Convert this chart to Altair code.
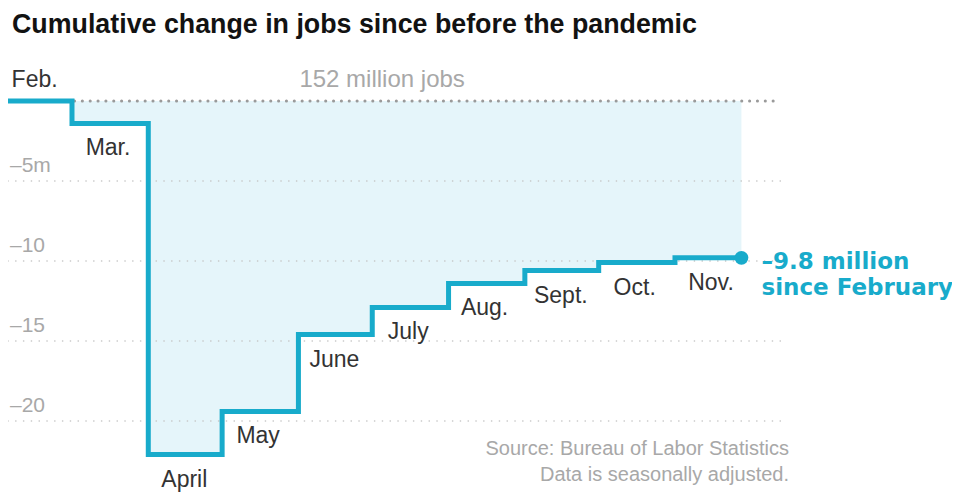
import altair as alt
import pandas as pd

TITLE = "Cumulative change in jobs since before the pandemic"
MONTHS = ["Feb.", "Mar.", "April", "May", "June", "July", "Aug.", "Sept.", "Oct.", "Nov."]
DATES = ["2020-02-01", "2020-03-01", "2020-04-01", "2020-05-01", "2020-06-01",
         "2020-07-01", "2020-08-01", "2020-09-01", "2020-10-01", "2020-11-01"]
CHANGE = [0, -1.4, -22.1, -19.4, -14.6, -12.9, -11.4, -10.6, -10.1, -9.8]
END_DATE = "2020-11-28"
GRID_VALUES = [-5, -10, -15, -20]
GRID_LABELS = ["–5m", "–10", "–15", "–20"]
BASE_LABEL = "152 million jobs"
ANNOTATION = ["–9.8 million", "since February"]
SOURCE = ["Source: Bureau of Labor Statistics", "Data is seasonally adjusted."]

BLUE = "#18abcb"
SHADE = "#e5f5fa"
FONT = "Liberation Sans"

W, H = 944, 486
PX_PER_DAY = 2.4612
DAY_MS = 86400000


def ms(s):
    return int(pd.Timestamp(s, tz="UTC").value // 10**6)


x_start = ms("2020-02-04")
x_end = int(x_start + W / PX_PER_DAY * DAY_MS)

steps = pd.DataFrame({"t": [ms(d) for d in DATES + [END_DATE]], "change": CHANGE + [CHANGE[-1]]})
labels = pd.DataFrame({"t": [ms(d) for d in DATES], "change": CHANGE, "month": MONTHS})
grid = pd.DataFrame({"v": GRID_VALUES, "label": GRID_LABELS,
                     "t0": x_start, "t1": ms("2020-12-15")})
zero_df = pd.DataFrame({"v": [0], "t0": [ms("2020-03-02")], "t1": [ms("2020-12-12")],
                        "tm": [ms("2020-07-05")], "label": [BASE_LABEL]})
end = pd.DataFrame({"t": [ms(END_DATE)], "change": [CHANGE[-1]]})

xscale = alt.Scale(type="utc", domain=[x_start, x_end], nice=False)
yscale = alt.Scale(domain=[-24.5625, 5.8125], nice=False, zero=False)

X = alt.X("t:T", scale=xscale, axis=None)
Y = alt.Y("change:Q", scale=yscale, axis=None)
YV = alt.Y("v:Q", scale=yscale, axis=None)

area = alt.Chart(steps).transform_filter(
    alt.datum.t >= ms("2020-03-01")
).transform_calculate(base="0").mark_area(
    interpolate="step-after", color=SHADE, opacity=1, clip=True
).encode(x=X, y=Y, y2="base:Q")

gridlines = alt.Chart(grid).mark_rule(
    color="#c4c4c4", strokeWidth=1.6, strokeDash=[0.1, 7.7], strokeCap="round"
).encode(x=alt.X("t0:T", scale=xscale, axis=None), x2="t1:T", y=YV)

zero = alt.Chart(zero_df).mark_rule(
    color="#9a9a9a", strokeWidth=3, strokeDash=[0.1, 7.75], strokeCap="round"
).encode(x=alt.X("t0:T", scale=xscale, axis=None), x2="t1:T", y=YV)

grid_text = alt.Chart(grid).mark_text(
    align="left", baseline="alphabetic", dy=-9, font=FONT, fontSize=21, color="#a8a8a8"
).encode(x=alt.value(2), y=YV, text="label:N")

base_text = alt.Chart(zero_df).mark_text(
    align="center", baseline="alphabetic", dy=-14, font=FONT, fontSize=24, color="#a8a8a8"
).encode(x=alt.X("tm:T", scale=xscale, axis=None), y=YV, text="label:N")

line = alt.Chart(steps).mark_line(
    interpolate="step-after", color=BLUE, strokeWidth=5, strokeJoin="miter", clip=True
).encode(x=X, y=Y)

month_below = alt.Chart(labels).transform_filter(alt.datum.month != "Feb.").mark_text(
    align="center", baseline="alphabetic", dx=36, dy=32, font=FONT, fontSize=23, color="#333333"
).encode(x=X, y=Y, text="month:N")

month_above = alt.Chart(labels).transform_filter(alt.datum.month == "Feb.").mark_text(
    align="center", baseline="alphabetic", dx=34, dy=-14, font=FONT, fontSize=23, color="#333333"
).encode(x=X, y=Y, text="month:N")

dot = alt.Chart(end).mark_point(filled=True, opacity=1, color=BLUE, size=190).encode(x=X, y=Y)

annot1 = alt.Chart(end).mark_text(
    align="left", baseline="alphabetic", dx=20, dy=11, font="DejaVu Sans", fontSize=23,
    fontWeight="bold", color=BLUE
).encode(x=X, y=Y, text=alt.value(ANNOTATION[0]))

annot2 = alt.Chart(end).mark_text(
    align="left", baseline="alphabetic", dx=20, dy=37, font="DejaVu Sans", fontSize=23,
    fontWeight="bold", color=BLUE
).encode(x=X, y=Y, text=alt.value(ANNOTATION[1]))

title = alt.Chart(pd.DataFrame({"s": [TITLE]})).mark_text(
    align="left", baseline="alphabetic", font=FONT, fontSize=26.8, fontWeight="bold", color="#121212"
).encode(x=alt.value(4), y=alt.value(25), text="s:N")

src1 = alt.Chart(pd.DataFrame({"s": [SOURCE[0]]})).mark_text(
    align="right", baseline="alphabetic", font=FONT, fontSize=20, color="#a8a8a8"
).encode(x=alt.value(781), y=alt.value(447), text="s:N")

src2 = alt.Chart(pd.DataFrame({"s": [SOURCE[1]]})).mark_text(
    align="right", baseline="alphabetic", font=FONT, fontSize=20, color="#a8a8a8"
).encode(x=alt.value(781), y=alt.value(473), text="s:N")

chart = alt.layer(
    area, gridlines, zero, grid_text, base_text, line, month_below, month_above,
    dot, annot1, annot2, title, src1, src2
).properties(
    width=W, height=H, padding=0, autosize=alt.AutoSizeParams(type="none")
).configure_view(stroke=None)

chart.save("out.html", embed_options={"renderer": "svg", "actions": False})
